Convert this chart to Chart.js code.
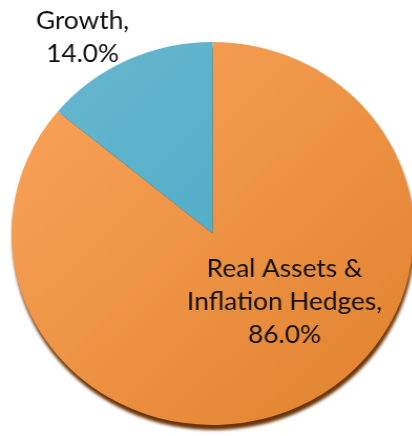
<!DOCTYPE html>
<html>
<head>
<meta charset="utf-8">
<script src="https://cdn.jsdelivr.net/npm/chart.js@4/dist/chart.umd.min.js"></script>
<style>
  html, body { margin: 0; padding: 0; background: #ffffff; overflow: hidden; }
  #wrap { width: 400px; height: 436px; transform: scaleX(1.05); transform-origin: 0 0; }
  canvas { display: block; }
</style>
</head>
<body>
<div id="wrap"><canvas id="pie" width="400" height="436"></canvas></div>
<script>
// Allocation categories and their shares (%)
const categories = ['Real Assets & Inflation Hedges', 'Growth'];
const labelLines = [['Real Assets &', 'Inflation Hedges,'], ['Growth,']];
const shares = [86.0, 14.0];

// Gradient stops per slice: [light, dark]
const sliceColors = [['#fba55c', '#e0812d'], ['#6ab8cf', '#3da6c3']];

// Label anchor offsets, in units of the pie radius, plus line spacing (px)
const labelOffsets = [
  { fx: 0.358, fy: 0.227 },
  { fx: -0.647, fy: -1.068 }
];
const lineGap = 33;

function sliceFill(ctx) {
  const chart = ctx.chart;
  const area = chart.chartArea;
  const pair = sliceColors[ctx.dataIndex];
  if (!area) return pair[0];
  const g = chart.ctx.createLinearGradient(area.left, area.top, area.right, area.bottom);
  g.addColorStop(0, pair[0]);
  g.addColorStop(1, pair[1]);
  return g;
}

// Drop shadow under the whole pie: a dark disc nudged downward
const pieShadow = {
  id: 'pieShadow',
  beforeDatasetsDraw(chart) {
    const arc = chart.getDatasetMeta(0).data[0];
    if (!arc) return;
    const c = chart.ctx;
    c.save();
    c.filter = 'blur(1.5px)';
    c.beginPath();
    c.arc(arc.x + 1, arc.y + 5, arc.outerRadius, 0, Math.PI * 2);
    c.fillStyle = '#6a3508';
    c.fill();
    c.restore();
  }
};

// Category name + percentage text
const sliceLabels = {
  id: 'sliceLabels',
  afterDatasetsDraw(chart) {
    const meta = chart.getDatasetMeta(0);
    const c = chart.ctx;
    c.save();
    c.font = '25px Lato, "Noto Sans", sans-serif';
    c.fillStyle = '#111111';
    c.textAlign = 'center';
    c.textBaseline = 'alphabetic';
    meta.data.forEach((arc, i) => {
      const off = labelOffsets[i];
      const x = arc.x + off.fx * arc.outerRadius;
      let y = arc.y + off.fy * arc.outerRadius;
      const lines = labelLines[i].concat([shares[i].toFixed(1) + '%']);
      lines.forEach((t) => { c.fillText(t, x, y); y += lineGap; });
    });
    c.restore();
  }
};

new Chart(document.getElementById('pie'), {
  type: 'pie',
  data: {
    labels: categories,
    datasets: [{
      data: shares,
      backgroundColor: sliceFill,
      borderWidth: 0,
      clip: false
    }]
  },
  options: {
    responsive: false,
    animation: false,
    devicePixelRatio: 1,
    layout: { padding: { left: 11, right: 6, top: 42, bottom: 11 } },
    plugins: {
      legend: { display: false },
      tooltip: { enabled: false },
      title: { display: false }
    }
  },
  plugins: [pieShadow, sliceLabels]
});
</script>
</body>
</html>
